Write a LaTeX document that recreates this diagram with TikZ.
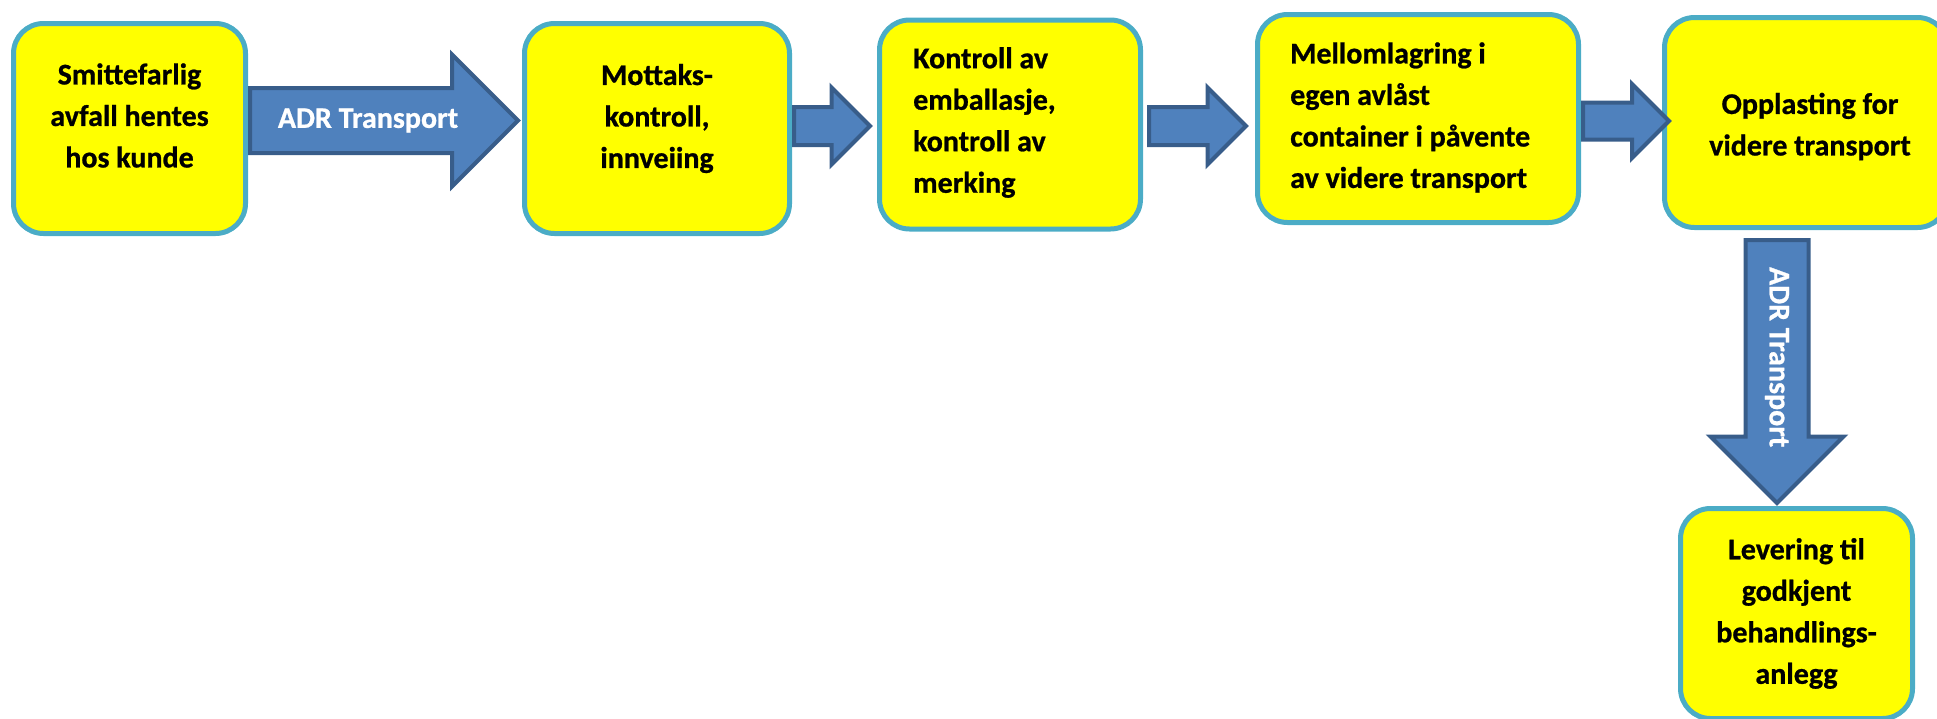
\documentclass[tikz,border=0pt]{standalone}
\usepackage{fontspec}
\setmainfont{Carlito}[BoldFeatures={FakeBold=0.8}]
\usetikzlibrary{shapes.arrows,positioning,calc}

\definecolor{gul}{HTML}{FFFF00}
\definecolor{kant}{HTML}{4BACC6}
\definecolor{pilblaa}{HTML}{4F81BD}
\definecolor{pilkant}{HTML}{385D8A}

\tikzset{
  boks/.style={draw=kant, fill=gul, line width=5pt, rounded corners=30pt, inner sep=0pt},
  tekst/.style={font=\bfseries\fontsize{30}{41.5}\selectfont, align=center, inner sep=0pt},
  pil/.style 2 args={single arrow, draw=pilkant, fill=pilblaa, line width=4pt,
    inner xsep=0pt, inner ysep=#1, single arrow head extend=#2, anchor=tail},
  piltekst/.style={text=white, font=\bfseries\fontsize{30}{36}\selectfont, inner sep=0pt}
}

\begin{document}
\begin{tikzpicture}[x=1pt, y=-1pt]
                \useasboundingbox (0,0) rectangle (1937,718);
                \clip (0,0) rectangle (1937,718);

                 % Bokser
                \node[boks, minimum width=232pt, minimum height=210pt] (b1) at (129.5,128.5) {};
                \node[boks, minimum width=265pt, minimum height=210pt] (b2) at (657,128.5) {};
                \node[boks, minimum width=261pt, minimum height=209pt] (b3) at (1010,124.5) {};
                \node[boks, minimum width=321pt, minimum height=208pt] (b4) at (1418,118.5) {};
                \node[boks, minimum width=283pt, minimum height=210pt] (b5) at (1806,122.5) {};
                \node[boks, minimum width=232pt, minimum height=210pt] (b6) at (1796.5,613.5) {};

                 % Tekst i boksene
                \node[tekst] (t1) at ([yshift=13pt]b1.center) {Smittefarlig\\avfall hentes\\hos kunde};
                \node[tekst] (t2) at ([yshift=10pt]b2.center) {Mottaks-\\kontroll,\\innveiing};
                \node[tekst, align=left, right=36pt of b3.west, yshift=2pt] (t3) {Kontroll av\\emballasje,\\kontroll av\\merking};
                \node[tekst, align=left, right=35pt of b4.west, yshift=1pt] (t4) {Mellomlagring i\\egen avlåst\\container i påvente\\av videre transport};
                \node[tekst] (t5) at ([xshift=4pt,yshift=-4pt]b5.center) {Opplasting for\\videre transport};
                \node[tekst] (t6) at (b6.center) {Levering til\\godkjent\\behandlings-\\anlegg};

                % Piler
                \node[pil={30.5pt}{33.5pt}, minimum height=268pt] (a1) at ([yshift=8pt]b1.east) {};
                \node[pil={17pt}{19.5pt}, minimum height=76pt] (a2) at ([yshift=2.5pt]b2.east) {};
                \node[pil={17pt}{19.5pt}, minimum height=97pt] (a3) at ([xshift=4pt,yshift=-1.5pt]b3.east) {};
                \node[pil={16.5pt}{18.5pt}, minimum height=86pt] (a4) at ([yshift=-2.5pt]b4.east) {};
                \node[pil={29.5pt}{35pt}, minimum height=263pt, rotate=-90] (a5) at ([xshift=-29pt,yshift=-8pt]b5.south) {};

                % Tekst på pilene
                \node[piltekst] (l1) at ($(a1.tail)!0.44!(a1.tip)$) {ADR Transport};
                \node[piltekst, rotate=-90] (l5) at ($(a5.tail)!0.445!(a5.tip)$) {ADR Transport};
\end{tikzpicture}
\end{document}
